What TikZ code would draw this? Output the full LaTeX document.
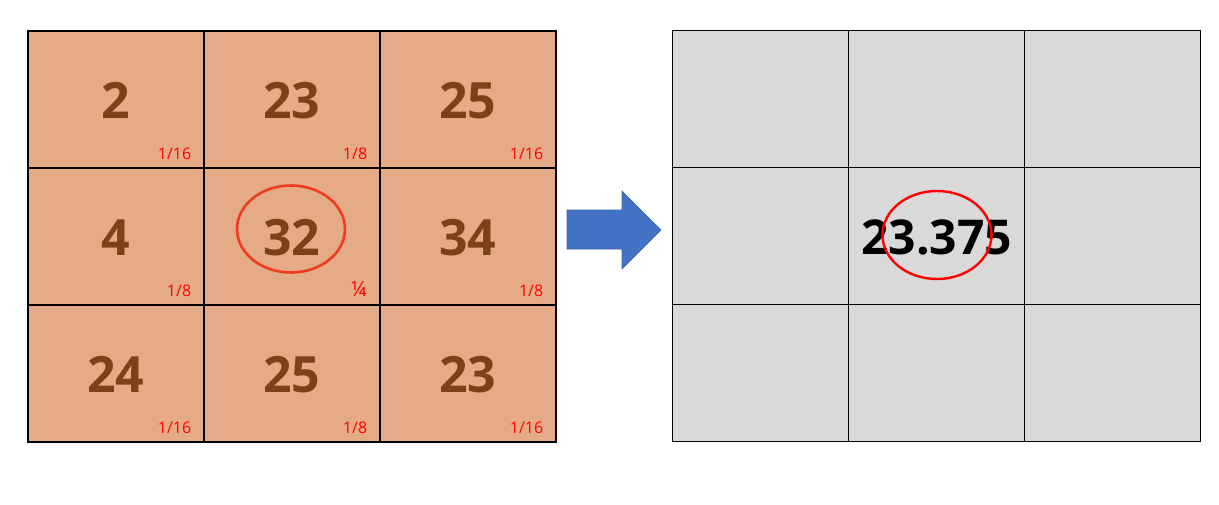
\documentclass[tikz,border=0pt]{standalone}
\usepackage{fontspec}
\setmainfont{Open Sans}
\definecolor{cellfill}{HTML}{E5AA86}
\definecolor{numbrown}{HTML}{7F3F18}
\definecolor{grayfill}{HTML}{D9D9D9}
\definecolor{arrblue}{HTML}{4472C4}
\definecolor{arredge}{HTML}{3A64AE}
\definecolor{ringorange}{HTML}{F03C1E}
\begin{document}
\begin{tikzpicture}[x=1pt,y=-1pt,
  cellL/.style={draw=black,line width=1.7pt,fill=cellfill,minimum width=176pt,minimum height=137pt,inner sep=0pt,anchor=north west},
  cellR/.style={draw=black,line width=1.3pt,fill=grayfill,minimum width=176pt,minimum height=137pt,inner sep=0pt,anchor=north west},
  numtxt/.style={font=\fontsize{50}{50}\selectfont\bfseries,text=numbrown},
  wtxt/.style={font=\fontsize{16}{16}\selectfont,text=red,anchor=base east}]
\useasboundingbox (0,0) rectangle (1219,504);
% left grid
\foreach \c/\x in {0/27,1/203,2/379}{
  \foreach \r/\y in {0/30,1/167,2/304}{
    \node[cellL] (L\r\c) at (\x,\y) {};
  }
}
\foreach \c/\x in {0/672,1/848,2/1024}{
  \foreach \r/\y in {0/30,1/167,2/304}{
    \node[cellR] (R\r\c) at (\x,\y) {};
  }
}
% numbers
\node[numtxt] (n00) at ([yshift=-1pt]L00.center) {2};
\node[numtxt] (n01) at ([yshift=-1pt]L01.center) {23};
\node[numtxt] (n02) at ([yshift=-1pt]L02.center) {25};
\node[numtxt] (n10) at ([yshift=-1pt]L10.center) {4};
\node[numtxt] (n11) at ([yshift=-1pt]L11.center) {32};
\node[numtxt] (n12) at ([yshift=-1pt]L12.center) {34};
\node[numtxt] (n20) at ([yshift=-1pt]L20.center) {24};
\node[numtxt] (n21) at ([yshift=-1pt]L21.center) {25};
\node[numtxt] (n22) at ([yshift=-1pt]L22.center) {23};
% weights
\node[wtxt] (w00) at ([xshift=-10pt,yshift=9pt]L00.south east) {1/16};
\node[wtxt] (w01) at ([xshift=-10pt,yshift=9pt]L01.south east) {1/8};
\node[wtxt] (w02) at ([xshift=-10pt,yshift=9pt]L02.south east) {1/16};
\node[wtxt] (w10) at ([xshift=-10pt,yshift=9pt]L10.south east) {1/8};
\node[wtxt,font=\fontsize{21}{21}\selectfont] (w11) at ([xshift=-10pt,yshift=9pt]L11.south east) {¼};
\node[wtxt] (w12) at ([xshift=-10pt,yshift=9pt]L12.south east) {1/8};
\node[wtxt] (w20) at ([xshift=-10pt,yshift=9pt]L20.south east) {1/16};
\node[wtxt] (w21) at ([xshift=-10pt,yshift=9pt]L21.south east) {1/8};
\node[wtxt] (w22) at ([xshift=-10pt,yshift=9pt]L22.south east) {1/16};
% ring left
\draw[ringorange,line width=2.6pt] (291,229) ellipse [x radius=54pt,y radius=43.5pt];
% arrow
\draw[fill=arrblue,draw=arredge,line width=0.6pt]
  (567,210) -- (622,210) -- (622,191) -- (661,230) -- (622,269) -- (622,249) -- (567,249) -- cycle;
% result
\node[font=\fontsize{48}{48}\selectfont\bfseries,text=black] (res) at ([yshift=-1pt]R11.center) {23.375};
\draw[red,line width=2.4pt] (937,235) ellipse [x radius=54.5pt,y radius=44pt];
\end{tikzpicture}
\end{document}
